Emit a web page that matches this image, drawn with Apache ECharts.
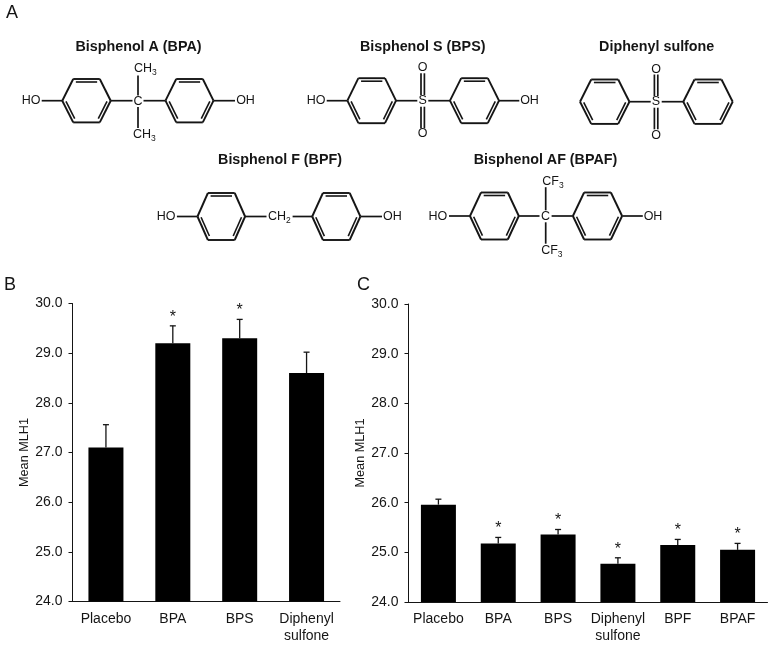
<!DOCTYPE html>
<html>
<head>
<meta charset="utf-8">
<style>html,body{margin:0;padding:0;background:#fff}#c{width:773px;height:645px}</style>
<script src="https://cdn.jsdelivr.net/npm/echarts@6/dist/echarts.min.js"></script>
</head>
<body>
<div id="c"></div>
<script>
// ---- chart data ----
var categoriesB = ['Placebo', 'BPA', 'BPS', 'Diphenyl\nsulfone'];
var meansB      = [27.1, 29.2, 29.3, 28.6];
var errorTopsB  = [27.56, 29.55, 29.68, 29.02];
var starsB      = [0, 1, 1, 0];

var categoriesC = ['Placebo', 'BPA', 'BPS', 'Diphenyl\nsulfone', 'BPF', 'BPAF'];
var meansC      = [25.96, 25.18, 25.36, 24.77, 25.15, 25.05];
var errorTopsC  = [26.07, 25.30, 25.46, 24.89, 25.26, 25.18];
var starsC      = [0, 1, 1, 1, 1, 1];

var axisTitle = 'Mean MLH1';
var INK = '#151515';
var FONT = '"Liberation Sans", Arial, sans-serif';

// ---- structure diagrams (panel A) drawn as decoration ----
var g = [];
function line(x1, y1, x2, y2, w) {
  g.push({ type: 'line', silent: true, shape: { x1: x1, y1: y1, x2: x2, y2: y2 },
           style: { stroke: INK, lineWidth: w || 1.7 } });
}
function text(x, y, s, size, align, weight) {
  g.push({ type: 'text', silent: true, x: x, y: y,
           style: { text: s, fill: INK, font: (weight || 'normal') + ' ' + size + 'px ' + FONT,
                    textAlign: align || 'center', textVerticalAlign: 'middle' } });
}
function ring(cx, cy, rx, dx, dy) {
  var p = [[cx - dx, cy - dy], [cx + dx, cy - dy], [cx + rx, cy], [cx + dx, cy + dy], [cx - dx, cy + dy], [cx - rx, cy]];
  for (var i = 0; i < 6; i++) {
    var a = p[i], b = p[(i + 1) % 6];
    line(a[0], a[1], b[0], b[1], 1.9);
    if (i % 2 === 0) {
      // inner line of the double bond
      var mx = (a[0] + b[0]) / 2, my = (a[1] + b[1]) / 2;
      var ux = cx - mx, uy = cy - my, len = Math.sqrt(ux * ux + uy * uy);
      var off = 3, sh = 0.1;
      var ax = a[0] + (b[0] - a[0]) * sh + ux / len * off, ay = a[1] + (b[1] - a[1]) * sh + uy / len * off;
      var bx = b[0] - (b[0] - a[0]) * sh + ux / len * off, by = b[1] - (b[1] - a[1]) * sh + uy / len * off;
      line(ax, ay, bx, by, 1.6);
    }
  }
}
function sub(x, y, base, digit, size) {
  text(x, y, base, size, 'left');
  var w = base === 'CH' ? 1.444 * size : 1.333 * size;
  text(x + w, y + 4, digit, size * 0.68, 'left');
}
var AT = 12.5, TT = 14.3;

// titles
text(138.5, 47.5, 'Bisphenol A (BPA)', TT, 'center', 'bold');
text(422.7, 47.5, 'Bisphenol S (BPS)', TT, 'center', 'bold');
text(656.7, 47.5, 'Diphenyl sulfone', TT, 'center', 'bold');
text(280, 160, 'Bisphenol F (BPF)', TT, 'center', 'bold');
text(545.5, 160, 'Bisphenol AF (BPAF)', TT, 'center', 'bold');

// panel letters
text(6, 13, 'A', 18, 'left');
text(4, 285, 'B', 18, 'left');
text(357, 285, 'C', 18, 'left');

// BPA
ring(86.5, 100.7, 24.2, 13.3, 21.7);
ring(189.5, 100.7, 24, 13.3, 21.7);
text(31, 101, 'HO', AT); text(245.5, 101, 'OH', AT);
line(41.7, 100.7, 62.3, 100.7); line(213.5, 100.7, 235, 100.7);
text(138, 101.5, 'C', AT);
line(110.7, 100.7, 132.5, 100.7); line(143.5, 100.7, 165.5, 100.7);
line(138, 75.5, 138, 95.5); line(138, 107, 138, 128);
sub(134, 69, 'CH', '3', AT); sub(133, 135, 'CH', '3', AT);

// BPS
ring(371.7, 100.7, 24.3, 13.3, 22.5);
ring(474.5, 100.7, 24.5, 13.3, 22.5);
text(316, 101, 'HO', AT); text(529.5, 101, 'OH', AT);
line(326.7, 100.7, 347.3, 100.7); line(499, 100.7, 519.3, 100.7);
text(422.7, 101, 'S', AT);
line(396, 100.7, 417.3, 100.7); line(428.3, 100.7, 450, 100.7);
line(421, 73.3, 421, 95); line(424.4, 73.3, 424.4, 95);
line(421, 106.7, 421, 128.3); line(424.4, 106.7, 424.4, 128.3);
text(422.7, 68, 'O', AT); text(422.7, 134, 'O', AT);

// Diphenyl sulfone
ring(604.7, 101.7, 24.7, 13.5, 22.2);
ring(708, 101.7, 24.7, 13.5, 22.2);
text(656, 102, 'S', AT);
line(629.3, 101.7, 650.7, 101.7); line(661.7, 101.7, 683.3, 101.7);
line(654.4, 74.5, 654.4, 96); line(657.8, 74.5, 657.8, 96);
line(654.4, 107.7, 654.4, 129.3); line(657.8, 107.7, 657.8, 129.3);
text(656, 69.5, 'O', AT); text(656, 135.5, 'O', AT);

// BPF
ring(221.3, 216.5, 23.8, 13.4, 23.5);
ring(336.3, 216.5, 24.1, 13.4, 23.5);
text(166, 216.5, 'HO', AT); text(392.3, 216.5, 'OH', AT);
line(176.9, 216.5, 197.5, 216.5); line(360.4, 216.5, 382, 216.5);
line(245, 216.5, 266.5, 216.5); line(292.6, 216.5, 312.2, 216.5);
sub(268, 217, 'CH', '2', AT);

// BPAF
ring(494.4, 216, 24.4, 13.4, 23.5);
ring(597.5, 216, 24.6, 13.4, 23.5);
text(437.8, 216.5, 'HO', AT); text(653, 216.5, 'OH', AT);
line(449, 216, 470, 216); line(622.2, 216, 642.8, 216);
text(545.4, 216.5, 'C', AT);
line(518.8, 216, 539.5, 216); line(551.6, 216, 572.9, 216);
line(545.7, 187.2, 545.7, 210.3); line(545.7, 222.3, 545.7, 243.7);
sub(542.3, 181.7, 'CF', '3', AT); sub(541.2, 250.5, 'CF', '3', AT);

// ---- charts ----
function errorRender(params, api) {
  var idx = api.value(0);
  var top = api.coord([idx, api.value(2)]);
  var base = api.coord([idx, api.value(1)]);
  var kids = [
    { type: 'line', shape: { x1: top[0], y1: base[1], x2: top[0], y2: top[1] }, style: { stroke: INK, lineWidth: 1.3 } },
    { type: 'line', shape: { x1: top[0] - 3, y1: top[1], x2: top[0] + 3, y2: top[1] }, style: { stroke: INK, lineWidth: 1.3 } }
  ];
  if (api.value(3)) {
    kids.push({ type: 'text', x: top[0], y: top[1] - 8.5,
      style: { text: '*', fill: INK, font: '16px ' + FONT, textAlign: 'center', textVerticalAlign: 'middle' } });
  }
  return { type: 'group', children: kids };
}
function panelAxes(cats, gridIndex, gap) {
  return {
    x: { type: 'category', gridIndex: gridIndex, data: cats,
      axisLine: { lineStyle: { color: INK, width: 1 } },
      axisTick: { alignWithLabel: true, length: 3, lineStyle: { color: INK } },
      axisLabel: { color: INK, fontSize: 14, fontFamily: FONT, margin: 9, lineHeight: 17, interval: 0 } },
    y: { type: 'value', gridIndex: gridIndex, min: 24, max: 30, interval: 1,
      name: axisTitle, nameLocation: 'middle', nameGap: gap, nameRotate: 90,
      nameTextStyle: { color: INK, fontSize: 12.7, fontFamily: FONT },
      splitLine: { show: false },
      axisLine: { show: true, lineStyle: { color: INK, width: 1 } },
      axisTick: { show: true, length: 4, lineStyle: { color: INK } },
      axisLabel: { color: INK, fontSize: 14, fontFamily: FONT, margin: 10,
        formatter: function (v) { return v.toFixed(1); } } }
  };
}
function rows(means, tops, stars) {
  return means.map(function (m, i) { return [i, m, tops[i], stars[i]]; });
}
function panelSeries(means, tops, stars, idx) {
  return [
    { type: 'bar', xAxisIndex: idx, yAxisIndex: idx, data: means, barWidth: 35,
      itemStyle: { color: '#000' }, silent: true, animation: false },
    { type: 'custom', xAxisIndex: idx, yAxisIndex: idx, renderItem: errorRender,
      data: rows(means, tops, stars), encode: { x: 0, y: 2 }, clip: false, silent: true, animation: false }
  ];
}
var aB = panelAxes(categoriesB, 0, 41);
var aC = panelAxes(categoriesC, 1, 41);

var chart = echarts.init(document.getElementById('c'), null, { renderer: 'canvas' });
chart.setOption({
  animation: false,
  backgroundColor: '#fff',
  grid: [
    { left: 72.5, top: 303.5, width: 267.5, height: 298 },
    { left: 408.5, top: 304, width: 359, height: 298 }
  ],
  xAxis: [aB.x, aC.x],
  yAxis: [aB.y, aC.y],
  series: panelSeries(meansB, errorTopsB, starsB, 0).concat(panelSeries(meansC, errorTopsC, starsC, 1)),
  graphic: { elements: g }
});
</script>
</body>
</html>
